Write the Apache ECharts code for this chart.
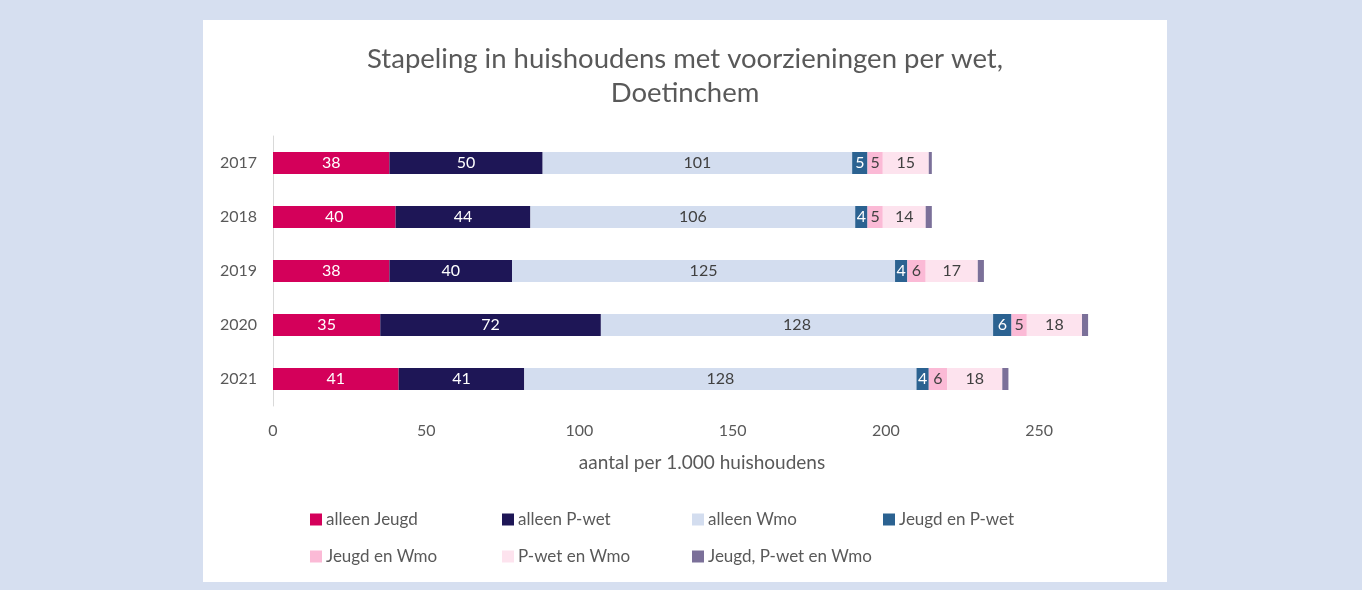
<!DOCTYPE html>
<html>
<head>
<meta charset="utf-8">
<script src="https://cdn.jsdelivr.net/npm/echarts@6/dist/echarts.min.js"></script>
<style>
	html, body { margin: 0; padding: 0; background: #d6dff0; }
	#chart { position: absolute; left: 203px; top: 20px; width: 964px; height: 562px; background: #fff; }
</style>
</head>
<body>
<div id="chart"></div>
<script>
	const years = ['2017', '2018', '2019', '2020', '2021']
	const alleenJeugd = [38, 40, 38, 35, 41]
	const alleenPwet = [50, 44, 40, 72, 41]
	const alleenWmo = [101, 106, 125, 128, 128]
	const jeugdPwet = [5, 4, 4, 6, 4]
	const jeugdWmo = [5, 5, 6, 5, 6]
	const pwetWmo = [15, 14, 17, 18, 18]
	const alleDrie = [1, 2, 2, 2, 2]
	const xTicks = [0, 50, 100, 150, 200, 250]

	const txt = '#595959'
	const font = 'Lato'

	function serie(name, data, color, labelColor, showLabel) {
		return {
			name: name,
			type: 'bar',
			stack: 'totaal',
			barWidth: 22,
			data: data,
			itemStyle: { color: color },
			label: {
				show: showLabel,
				position: 'inside',
				color: labelColor,
				fontFamily: font,
				fontSize: 16
			},
			emphasis: { disabled: true }
		}
	}

	// one legend per item, so the columns line up like in the original
	const legendPos = [
		['alleen Jeugd', 107, 491], ['alleen P-wet', 299, 491], ['alleen Wmo', 489, 491], ['Jeugd en P-wet', 680, 491],
		['Jeugd en Wmo', 107, 528], ['P-wet en Wmo', 299, 528], ['Jeugd, P-wet en Wmo', 489, 528]
	]
	const legends = legendPos.map(p => ({
		data: [p[0]],
		left: p[1],
		top: p[2],
		padding: 0,
		icon: 'rect',
		itemWidth: 12,
		itemHeight: 12,
		textStyle: { color: txt, fontFamily: font, fontSize: 17, padding: [0, 0, 0, -1] }
	}))

	const chart = echarts.init(document.getElementById('chart'))
	chart.setOption({
		animation: false,
		textStyle: { fontFamily: font },
		title: {
			text: 'Stapeling in huishoudens met voorzieningen per wet,\nDoetinchem',
			left: 'center',
			top: 17,
			textStyle: { color: txt, fontFamily: font, fontSize: 27.5, fontWeight: 'normal', lineHeight: 34 }
		},
		legend: legends,
		grid: {
			left: 70,
			top: 116,
			width: 858,
			height: 270
		},
		xAxis: {
			type: 'value',
			min: 0,
			max: 280,
			interval: 50,
			name: 'aantal per 1.000 huishoudens',
			nameLocation: 'middle',
			nameGap: 47,
			nameTextStyle: { color: txt, fontFamily: font, fontSize: 19 },
			axisLine: { show: false },
			axisTick: { show: false },
			splitLine: { show: false },
			axisLabel: {
				color: txt,
				fontFamily: font,
				fontSize: 16,
				margin: 17,
				showMaxLabel: false,
				formatter: v => xTicks.includes(v) ? String(v) : ''
			}
		},
		yAxis: {
			type: 'category',
			data: years,
			inverse: true,
			axisLine: { show: true, lineStyle: { color: '#d9d9d9' } },
			axisTick: { show: false },
			axisLabel: { color: txt, fontFamily: font, fontSize: 16, margin: 16 }
		},
		series: [
			serie('alleen Jeugd', alleenJeugd, '#d4005a', '#ffffff', true),
			serie('alleen P-wet', alleenPwet, '#1e1656', '#ffffff', true),
			serie('alleen Wmo', alleenWmo, '#d3ddef', '#404040', true),
			serie('Jeugd en P-wet', jeugdPwet, '#2b6291', '#ffffff', true),
			serie('Jeugd en Wmo', jeugdWmo, '#fbbad6', '#404040', true),
			serie('P-wet en Wmo', pwetWmo, '#fde3ee', '#404040', true),
			serie('Jeugd, P-wet en Wmo', alleDrie, '#7b7099', '#404040', false)
		]
	})
</script>
</body>
</html>
